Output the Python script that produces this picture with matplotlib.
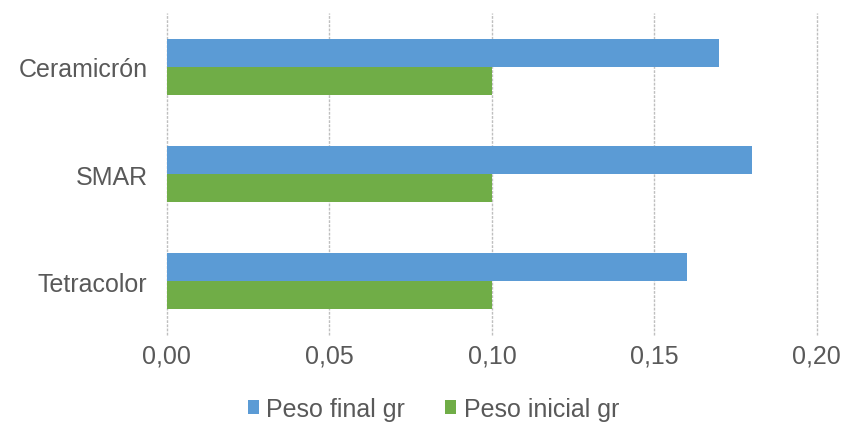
import numpy as np
import matplotlib.pyplot as plt
from matplotlib.ticker import FuncFormatter

# --- Daten ---
categorias = ['Ceramicrón', 'SMAR', 'Tetracolor']
peso_final = [0.17, 0.18, 0.16]
peso_inicial = [0.10, 0.10, 0.10]

azul = '#5B9BD5'
verde = '#70AD47'
gris = '#595959'

plt.rcParams['font.family'] = ['Liberation Sans', 'DejaVu Sans']

fig = plt.figure(figsize=(8.43, 4.27), dpi=100)
ax = fig.add_axes([0.198, 0.213, 0.771, 0.754])

y = np.arange(len(categorias))[::-1]
h = 0.26
ax.barh(y + h / 2, peso_final, height=h, color=azul, label='Peso final gr', zorder=3)
ax.barh(y - h / 2, peso_inicial, height=h, color=verde, label='Peso inicial gr', zorder=3)

ax.set_xlim(0, 0.20)
ax.set_ylim(-0.5, 2.5)
ax.set_xticks(np.arange(0, 0.201, 0.05))
ax.xaxis.set_major_formatter(FuncFormatter(lambda v, p: f'{v:.2f}'.replace('.', ',')))
ax.set_yticks(y)
ax.set_yticklabels(categorias)

ax.grid(axis='x', color='#BFBFBF', linestyle=(0, (2, 1)), linewidth=1, zorder=0)
for gl in ax.get_xgridlines():
    gl.set_clip_on(False)
for s in ax.spines.values():
    s.set_visible(False)
ax.tick_params(length=0, labelsize=18, colors=gris)
ax.tick_params(axis='y', pad=14)
ax.tick_params(axis='x', pad=6)

leg = ax.legend(loc='center', bbox_to_anchor=(0.41, -0.23), ncol=2, frameon=False,
                fontsize=18, handlelength=0.45, handleheight=0.45, handletextpad=0.3,
                columnspacing=1.6, borderaxespad=0)
for t in leg.get_texts():
    t.set_color(gris)

fig.savefig('out.png', dpi=100)
